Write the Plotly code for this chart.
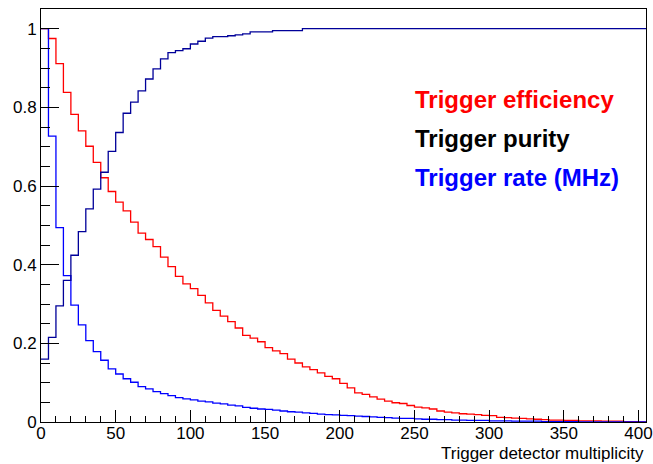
import plotly.graph_objects as go

bin_lo = list(range(0, 405, 5))  # lower bin edges, width 5

efficiency = [1.0, 0.975, 0.911, 0.838, 0.782, 0.740, 0.701, 0.660, 0.621, 0.586,
              0.559, 0.537, 0.508, 0.480, 0.464, 0.446, 0.419, 0.395, 0.370, 0.351,
              0.339, 0.322, 0.303, 0.284, 0.269, 0.255, 0.239, 0.220, 0.213, 0.204,
              0.189, 0.181, 0.174, 0.160, 0.150, 0.140, 0.133, 0.125, 0.116, 0.110,
              0.098, 0.087, 0.074, 0.070, 0.064, 0.058, 0.053, 0.049, 0.047, 0.042,
              0.038, 0.036, 0.033, 0.028, 0.025, 0.023, 0.021, 0.020, 0.019, 0.017,
              0.016, 0.012, 0.011, 0.010, 0.009, 0.008, 0.007, 0.006, 0.005, 0.005,
              0.004, 0.004, 0.003, 0.003, 0.003, 0.002, 0.002, 0.002, 0.001, 0.001,
              0.0]

purity = [0.160, 0.215, 0.295, 0.360, 0.424, 0.484, 0.542, 0.592, 0.635, 0.688,
          0.736, 0.785, 0.813, 0.842, 0.872, 0.898, 0.923, 0.939, 0.944, 0.949,
          0.961, 0.968, 0.976, 0.980, 0.980, 0.982, 0.984, 0.987, 0.992, 0.992,
          0.992, 0.995, 0.995, 0.995, 0.995] + [1.0] * 46

rate = [1.0, 0.727, 0.494, 0.372, 0.297, 0.247, 0.207, 0.179, 0.157, 0.135,
        0.122, 0.110, 0.101, 0.090, 0.084, 0.077, 0.072, 0.067, 0.062, 0.059,
        0.056, 0.053, 0.051, 0.048, 0.046, 0.043, 0.041, 0.037, 0.035, 0.033,
        0.032, 0.030, 0.028, 0.026, 0.025, 0.023, 0.022, 0.020, 0.019, 0.018,
        0.017, 0.016, 0.015, 0.014, 0.013, 0.012, 0.011, 0.010, 0.009, 0.009,
        0.008, 0.007, 0.007, 0.006, 0.006, 0.005, 0.005, 0.004, 0.004, 0.004,
        0.003, 0.003, 0.003, 0.002, 0.002, 0.002, 0.002, 0.001, 0.001, 0.001,
        0.001, 0.001] + [0.0] * 9

x_ticks = [0, 50, 100, 150, 200, 250, 300, 350, 400]
y_ticks = [0, 0.2, 0.4, 0.6, 0.8, 1]
y_tick_text = ["0", "0.2", "0.4", "0.6", "0.8", "1"]

legend_labels = ["Trigger efficiency", "Trigger purity", "Trigger rate (MHz)"]
legend_colors = ["#ff0000", "#000000", "#0000ff"]

FONT = "Liberation Sans, Arial, Helvetica, sans-serif"


def step(vals):
    xs = bin_lo + [bin_lo[-1] + 5]
    ys = list(vals) + [vals[-1]]
    return xs, ys


fig = go.Figure()
for vals, col in [(efficiency, "#ff0000"), (rate, "#0000ff"), (purity, "#000099")]:
    xs, ys = step(vals)
    fig.add_trace(go.Scatter(x=xs, y=ys, mode="lines", line=dict(color=col, width=1.3, shape="hv"),
                             hoverinfo="skip", showlegend=False))

leg_y = [0.819, 0.720, 0.621]
for lab, col, yy in zip(legend_labels, legend_colors, leg_y):
    fig.add_annotation(x=249, y=yy, xref="x", yref="y", text="<b>%s</b>" % lab, showarrow=False,
                       xanchor="left", yanchor="middle",
                       font=dict(family=FONT, size=24, color=col))

fig.add_annotation(x=1.0, y=-0.077, xref="paper", yref="paper", text="Trigger detector multiplicity",
                   showarrow=False, xanchor="right", yanchor="middle",
                   font=dict(family=FONT, size=17, color="black"))

fig.update_layout(
    width=653, height=464, autosize=False,
    margin=dict(l=41, r=7, t=9, b=42),
    paper_bgcolor="white", plot_bgcolor="white",
    font=dict(family=FONT, size=17, color="black"),
    showlegend=False,
)
fig.update_xaxes(range=[0, 405], tickvals=x_ticks, ticks="inside", ticklen=12, tickcolor="black",
                 showgrid=False, zeroline=False, showline=True, linecolor="black", linewidth=1,
                 mirror=True, tickfont=dict(size=17), automargin=False, ticklabelstandoff=-4,
                 minor=dict(dtick=10, tick0=0, ticks="inside", ticklen=6, tickcolor="black", showgrid=False))
fig.update_yaxes(range=[0, 1.05], tickvals=y_ticks, ticktext=y_tick_text, ticks="inside", ticklen=18,
                 tickcolor="black", showgrid=False, zeroline=False, showline=True, linecolor="black",
                 linewidth=1, mirror=True, tickfont=dict(size=17), automargin=False,
                 minor=dict(dtick=0.05, tick0=0, ticks="inside", ticklen=9, tickcolor="black", showgrid=False))

fig.write_html("out.html", config={"displayModeBar": False},
               post_script="document.body.style.margin='0px';document.body.style.padding='0px';")
